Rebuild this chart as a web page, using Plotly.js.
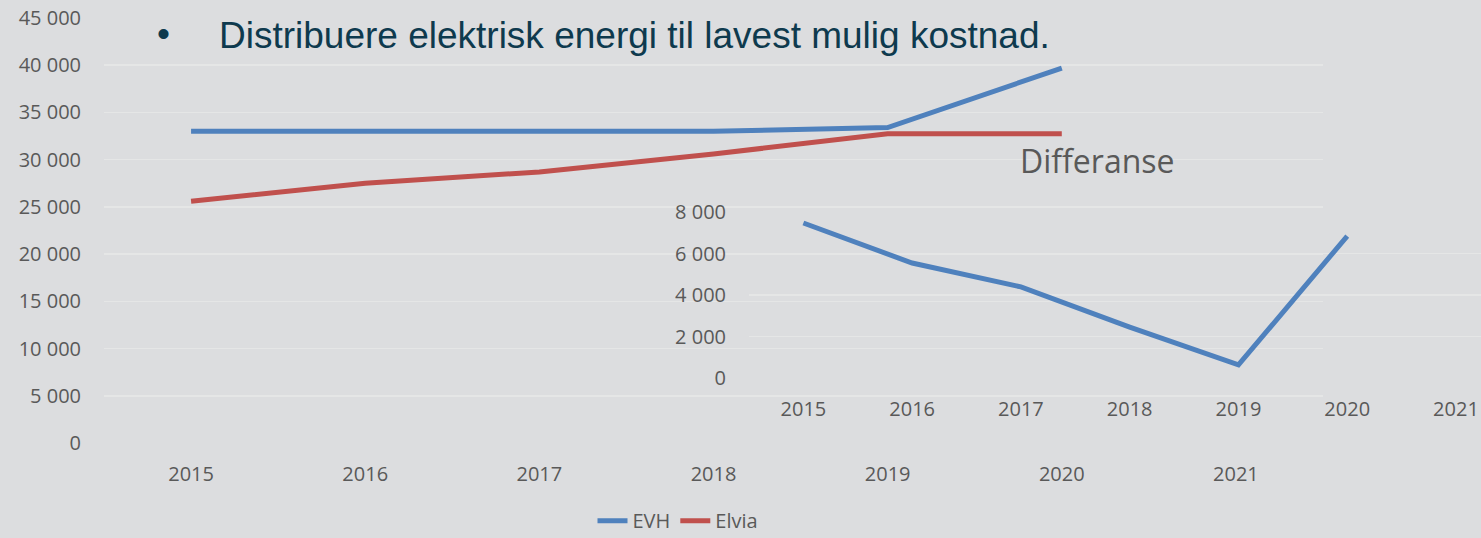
<!DOCTYPE html>
<html><head><meta charset="utf-8">
<script src="https://cdn.plot.ly/plotly-3.0.1.min.js"></script>
<style>html,body{margin:0;padding:0;background:#dcdddf;}</style>
</head><body><div id="chart" style="width:1481px;height:538px;"></div>
<script>
const years = ['2015','2016','2017','2018','2019','2020','2021'];
const seriesYears = ['2015','2016','2017','2018','2019','2020'];
const evh = [33000, 33000, 33000, 33000, 33400, 39700];
const elvia = [25600, 27500, 28700, 30600, 32750, 32750];
const differanse = [7470, 5540, 4390, 2450, 630, 6840];
const mainTicks = [0,5000,10000,15000,20000,25000,30000,35000,40000,45000];
const mainTickText = ['0','5 000','10 000','15 000','20 000','25 000','30 000','35 000','40 000','45 000'];
const insetTicks = [0,2000,4000,6000,8000];
const insetTickText = ['0','2 000','4 000','6 000','8 000'];

const W = 1481, H = 538;
const px = v => v / W;
const py = v => 1 - v / H;
const tickFont = {family: 'Open Sans, sans-serif', size: 20, color: '#595959'};
const grid = '#e5e6e6';

const traces = [
  {x: seriesYears, y: evh, name: 'EVH', type: 'scatter', mode: 'lines',
   line: {color: '#4f81bd', width: 5}, xaxis: 'x', yaxis: 'y'},
  {x: seriesYears, y: elvia, name: 'Elvia', type: 'scatter', mode: 'lines',
   line: {color: '#c0504d', width: 5}, xaxis: 'x', yaxis: 'y'},
  {x: seriesYears, y: differanse, name: 'Differanse', type: 'scatter', mode: 'lines',
   line: {color: '#4f81bd', width: 5}, xaxis: 'x2', yaxis: 'y2', showlegend: false}
];

const layout = {
  width: W, height: H,
  margin: {l: 0, r: 0, t: 0, b: 0, autoexpand: false},
  paper_bgcolor: '#dcdddf',
  plot_bgcolor: 'rgba(0,0,0,0)',
  showlegend: true,
  legend: {orientation: 'h', x: px(678), xanchor: 'center', y: -0.004, yanchor: 'bottom',
           font: {family: 'Open Sans, sans-serif', size: 20, color: '#595959'},
           bgcolor: 'rgba(0,0,0,0)', itemwidth: 30, tracegroupgap: 0},
  xaxis: {domain: [px(104), px(1323)], type: 'category', categoryorder: 'array',
          categoryarray: years, range: [-0.5, 6.5], showgrid: false, zeroline: false,
          showline: false, ticks: '', tickfont: tickFont, ticklabelstandoff: 17, anchor: 'y',
          automargin: false},
  yaxis: {domain: [py(443), py(18)], range: [0, 45000], tickvals: mainTicks, ticktext: mainTickText,
          showgrid: true, gridcolor: grid, gridwidth: 1.5, zeroline: false, showline: false,
          ticks: '', tickfont: tickFont, ticklabelstandoff: 22, anchor: 'x', automargin: false},
  xaxis2: {domain: [px(749), 1], type: 'category', categoryorder: 'array',
           categoryarray: years, range: [-0.5, 6.23], showgrid: false, zeroline: false,
           showline: false, ticks: '', tickfont: tickFont, ticklabelstandoff: 17, anchor: 'y2',
           automargin: false},
  yaxis2: {domain: [py(378), py(212)], range: [0, 8000], tickvals: insetTicks, ticktext: insetTickText,
           showgrid: true, gridcolor: grid, gridwidth: 1.5, zeroline: false, showline: false,
           ticks: '', tickfont: tickFont, ticklabelstandoff: 22, anchor: 'x2', automargin: false},
  annotations: [
    {text: '•', xref: 'paper', yref: 'paper', x: px(163), y: py(33), xanchor: 'center', yanchor: 'middle',
     showarrow: false, font: {family: 'Liberation Sans, Arial, sans-serif', size: 37, color: '#0e3a4e'}},
    {text: 'Distribuere elektrisk energi til lavest mulig kostnad.', xref: 'paper', yref: 'paper',
     x: px(217), y: py(35), xanchor: 'left', yanchor: 'middle', showarrow: false,
     font: {family: 'Liberation Sans, Arial, sans-serif', size: 37, color: '#0e3a4e'}},
    {text: 'Differanse', xref: 'paper', yref: 'paper', x: px(1097), y: py(160), xanchor: 'center',
     yanchor: 'middle', showarrow: false, font: {family: 'Open Sans, sans-serif', size: 32, color: '#595959'}}
  ]
};

Plotly.newPlot('chart', traces, layout, {displayModeBar: false, staticPlot: true});
</script></body></html>
